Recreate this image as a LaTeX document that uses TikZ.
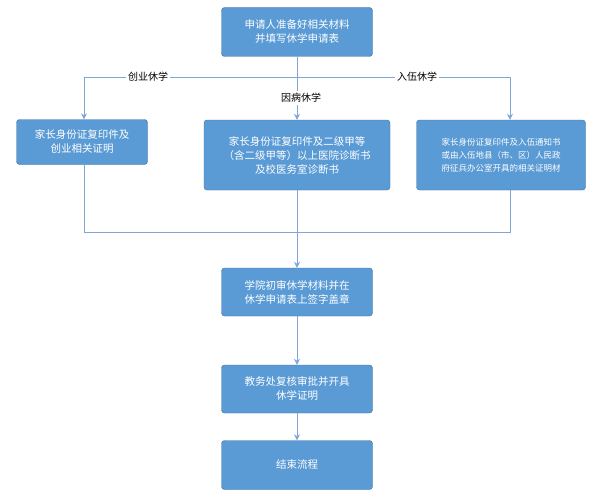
\documentclass[tikz,border=0pt]{standalone}
\usepackage{fontspec}
\setmainfont{Noto Sans CJK SC}
\usetikzlibrary{arrows.meta}
\definecolor{bfill}{HTML}{5B9BD5}
\definecolor{bdraw}{HTML}{41719C}
\definecolor{lcol}{HTML}{7EA6D6}
\begin{document}
\begin{tikzpicture}[x=1pt,y=-1pt,
 box/.style={draw=bdraw,fill=bfill,rounded corners=3pt,text=white,align=center,font=\fontsize{10.5}{14}\selectfont,inner sep=2pt},
 ln/.style={draw=lcol,line width=0.8pt},
 ar/.style={ln,-{Stealth[length=6pt,width=6pt]}},
 lab/.style={fill=white,font=\fontsize{10}{12}\selectfont,inner sep=2pt}]
\useasboundingbox (0,0) rectangle (616,503);
\node[box,minimum width=151pt,minimum height=49pt] (a) at (297,32) {申请人准备好相关材料\\并填写休学申请表};
\node[box,minimum width=131pt,minimum height=45pt] (l) at (82,142) {家长身份证复印件及\\创业相关证明};
\node[box,minimum width=186pt,minimum height=70pt] (m) at (297,155) {家长身份证复印件及二级甲等\\（含二级甲等）以上医院诊断书\\及校医务室诊断书};
\node[box,minimum width=169pt,minimum height=70pt,font=\fontsize{8.5}{13}\selectfont] (r) at (501,155) {家长身份证复印件及入伍通知书\\或由入伍地县（市、区）人民政\\府征兵办公室开具的相关证明材};
\node[box,minimum width=151pt,minimum height=48pt] (b) at (297,292) {学院初审休学材料并在\\休学申请表上签字盖章};
\node[box,minimum width=151pt,minimum height=48pt] (c) at (297,389) {教务处复核审批并开具\\休学证明};
\node[box,minimum width=151pt,minimum height=49pt] (d) at (297,465) {结束流程};
\coordinate (sl) at (84,77); \coordinate (sr) at (510,77); \coordinate (sm) at (297,77);
\coordinate (jl) at (84,232); \coordinate (jr) at (510,232); \coordinate (jm) at (297,232);
\draw[ln] (sl) -- (sr);
\draw[ln] (a.south) -- (sm);
\draw[ar] (sm) -- (m.north);
\draw[ar] (sl) -- (sl|-l.north);
\draw[ar] (sr) -- (sr|-r.north);
\node[lab] (t1) at (148,77) {创业休学};
\node[lab] (t2) at (417,77) {入伍休学};
\node[lab] (t3) at (301,98) {因病休学};
\draw[ln] (sl|-l.south) -- (jl) -- (jr) -- (sr|-r.south);
\draw[ln] (m.south) -- (jm);
\draw[ar] (jm) -- (b.north);
\draw[ar] (b.south) -- (c.north);
\draw[ar] (c.south) -- (d.north);
\end{tikzpicture}
\end{document}
